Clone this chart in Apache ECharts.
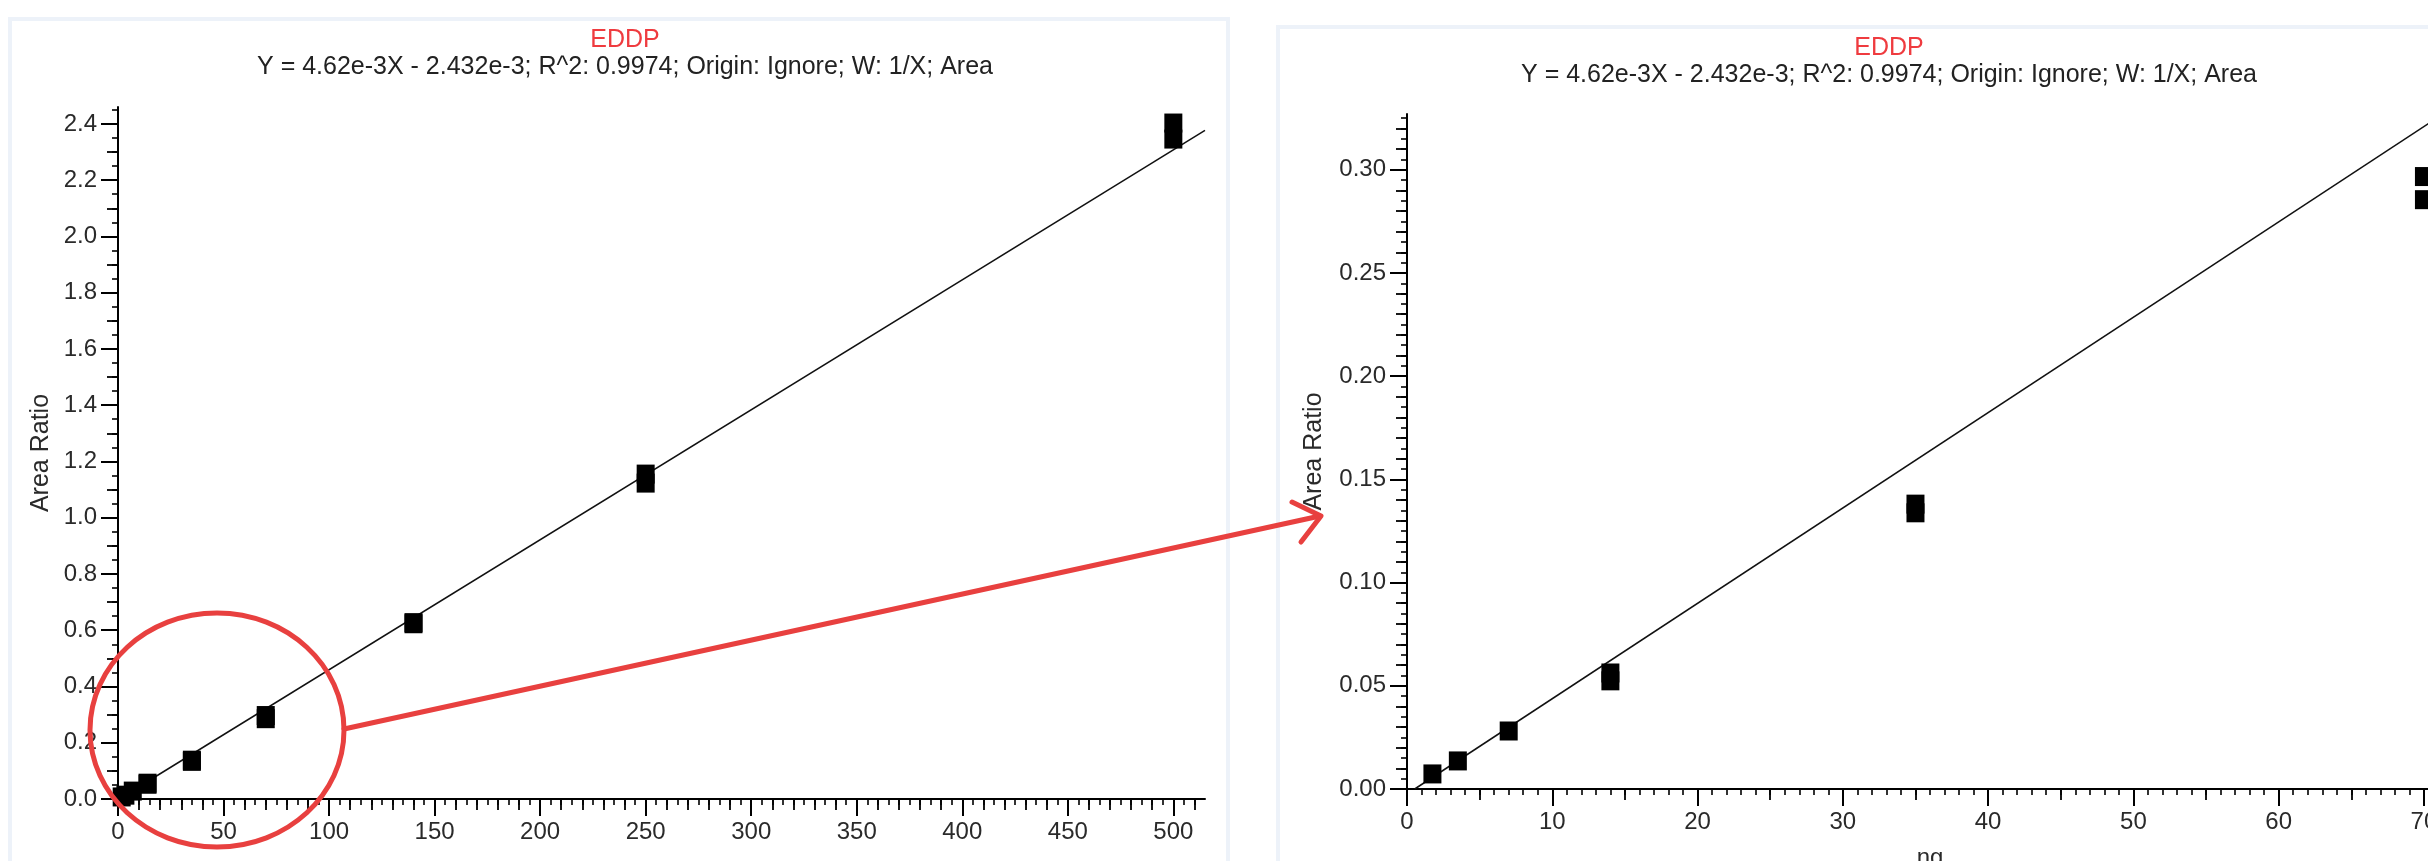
<!DOCTYPE html>
<html><head><meta charset="utf-8">
<script src="https://cdn.jsdelivr.net/npm/echarts@6/dist/echarts.min.js"></script>
<style>html,body{margin:0;padding:0;background:#fff;}#chart{width:2428px;height:861px;}</style>
</head><body><div id="chart"></div>
<script>
// ---- data ----
const concentration = [1.75, 3.5, 7, 14, 14, 35, 35, 70, 70, 140, 140, 250, 250, 500, 500];
const areaRatio     = [0.0073, 0.0136, 0.0281, 0.0562, 0.0524, 0.1380, 0.1338, 0.2967, 0.2855, 0.627, 0.623, 1.155, 1.123, 2.403, 2.346];
const leftFitLine  = [[0.53, 0], [515, 2.377]];
const rightFitLine = [[0.53, 0], [72, 0.3302]];
const leftXTicks  = [0, 50, 100, 150, 200, 250, 300, 350, 400, 450, 500];
const leftYTicks  = [0, 0.2, 0.4, 0.6, 0.8, 1.0, 1.2, 1.4, 1.6, 1.8, 2.0, 2.2, 2.4];
const rightXTicks = [0, 10, 20, 30, 40, 50, 60, 70];
const rightYTicks = [0, 0.05, 0.10, 0.15, 0.20, 0.25, 0.30];
const titleText = 'EDDP';
const subtitleText = 'Y = 4.62e-3X - 2.432e-3; R^2: 0.9974; Origin: Ignore; W: 1/X; Area';
const xName = 'ng';
const yName = 'Area Ratio';

// ---- helpers ----
const FONT = "'Liberation Sans', Arial, sans-serif";
const TXT = '#2a2a2a';
function mediumTicks(step, max, skip) {
  const out = [];
  for (let i = 1; i * step <= max + 1e-9; i++) {
    const v = +(i * step).toFixed(6);
    const r = v / skip;
    if (Math.abs(r - Math.round(r)) > 1e-6) out.push(v);
  }
  return out;
}
const points = concentration.map((x, i) => [x, areaRatio[i]]);

function mainAxis(isX, grid, max, interval, ticks, minorSplit, fmt, nameGap) {
  return {
    type: 'value', gridIndex: grid, position: isX ? 'bottom' : 'left',
    min: 0, max: max, interval: interval,
    name: isX ? xName : yName, nameLocation: 'middle', nameGap: nameGap,
    nameRotate: isX ? 0 : 90,
    nameTextStyle: { fontFamily: FONT, fontSize: isX ? 24 : 25, color: TXT },
    axisLine: { show: true, onZero: false, lineStyle: { color: '#000', width: 2 } },
    axisTick: { show: true, inside: false, length: 17, customValues: ticks, lineStyle: { color: '#000', width: 2 } },
    minorTick: { show: true, splitNumber: minorSplit, length: 6, lineStyle: { color: '#000', width: 1.6 } },
    axisLabel: { show: true, margin: 21, customValues: ticks, formatter: fmt, fontFamily: FONT, fontSize: 24, color: TXT },
    splitLine: { show: false }, minorSplitLine: { show: false }
  };
}
function medAxis(isX, grid, max, interval, ticks) {
  return {
    type: 'value', gridIndex: grid, position: isX ? 'bottom' : 'left',
    min: 0, max: max, interval: interval,
    axisLine: { show: false, onZero: false },
    axisTick: { show: true, inside: false, length: 11, customValues: ticks, lineStyle: { color: '#000', width: 1.8 } },
    minorTick: { show: false }, axisLabel: { show: false }, splitLine: { show: false }
  };
}

const chart = echarts.init(document.getElementById('chart'));
const option = {
  animation: false,
  backgroundColor: '#fff',
  title: [
    { text: titleText, subtext: subtitleText, left: 620, top: 23, textAlign: 'center', itemGap: 2,
      textStyle: { fontFamily: FONT, fontSize: 25, fontWeight: 'normal', color: '#ef3b3f' },
      subtextStyle: { fontFamily: FONT, fontSize: 25, color: '#222' } },
    { text: titleText, subtext: subtitleText, left: 1884, top: 31, textAlign: 'center', itemGap: 2,
      textStyle: { fontFamily: FONT, fontSize: 25, fontWeight: 'normal', color: '#ef3b3f' },
      subtextStyle: { fontFamily: FONT, fontSize: 25, color: '#222' } }
  ],
  grid: [
    { left: 118, top: 107, width: 1087, height: 692, containLabel: false, outerBoundsMode: 'none' },
    { left: 1407, top: 114, width: 1046, height: 675, containLabel: false, outerBoundsMode: 'none' }
  ],
  xAxis: [
    mainAxis(true, 0, 515, 50, leftXTicks, 10, v => String(v), 57),
    medAxis(true, 0, 515, 50, mediumTicks(10, 515, 50)),
    mainAxis(true, 1, 72, 10, rightXTicks, 10, v => String(v), 57),
    medAxis(true, 1, 72, 10, mediumTicks(5, 72, 10))
  ],
  yAxis: [
    mainAxis(false, 0, 2.46, 0.2, leftYTicks, 4, v => v.toFixed(1), 64),
    medAxis(false, 0, 2.46, 0.2, mediumTicks(0.1, 2.46, 0.2)),
    mainAxis(false, 1, 0.327, 0.05, rightYTicks, 10, v => v.toFixed(2), 80),
    medAxis(false, 1, 0.327, 0.05, mediumTicks(0.01, 0.327, 0.05))
  ],
  series: [
    { type: 'line', xAxisIndex: 0, yAxisIndex: 0, data: leftFitLine, symbol: 'none', clip: true, z: 2,
      lineStyle: { color: '#111', width: 1.5 } },
    { type: 'scatter', xAxisIndex: 0, yAxisIndex: 0, data: points, symbol: 'rect', symbolSize: [18, 19], clip: true, z: 3,
      itemStyle: { color: '#000', opacity: 1 } },
    { type: 'line', xAxisIndex: 2, yAxisIndex: 2, data: rightFitLine, symbol: 'none', clip: true, z: 2,
      lineStyle: { color: '#111', width: 1.5 } },
    { type: 'scatter', xAxisIndex: 2, yAxisIndex: 2, data: points, symbol: 'rect', symbolSize: [18, 19], clip: true, z: 3,
      itemStyle: { color: '#000', opacity: 1 } }
  ],
  graphic: [
    { type: 'rect', silent: true, z: -1, shape: { x: 10, y: 19, width: 1218, height: 900 },
      style: { fill: 'none', stroke: '#edf2f9', lineWidth: 4 } },
    { type: 'rect', silent: true, z: -1, shape: { x: 1278, y: 27, width: 1300, height: 900 },
      style: { fill: 'none', stroke: '#edf2f9', lineWidth: 4 } },
    { type: 'ellipse', silent: true, z: 100, shape: { cx: 217, cy: 730, rx: 127, ry: 117 },
      style: { fill: 'none', stroke: '#e8403f', lineWidth: 5 } },
    { type: 'line', silent: true, z: 100, shape: { x1: 344, y1: 729, x2: 1320, y2: 516 },
      style: { stroke: '#e8403f', lineWidth: 5, lineCap: 'round' } },
    { type: 'polyline', silent: true, z: 100, shape: { points: [[1292, 502], [1321, 516], [1301, 542]] },
      style: { fill: 'none', stroke: '#e8403f', lineWidth: 5, lineCap: 'round', lineJoin: 'round' } }
  ]
};
chart.setOption(option);
</script></body></html>
